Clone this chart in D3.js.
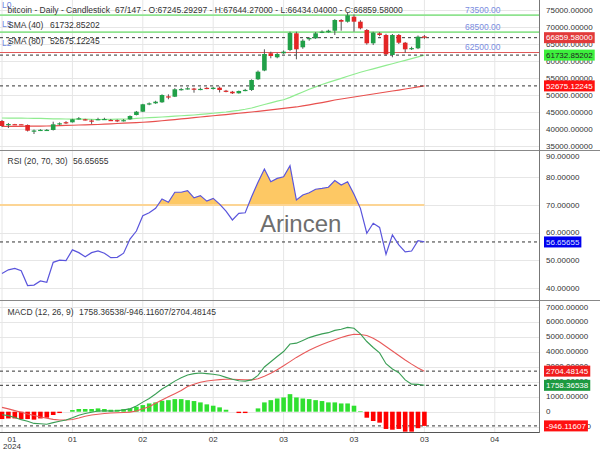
<!DOCTYPE html>
<html><head><meta charset="utf-8">
<script src="https://cdn.jsdelivr.net/npm/d3@7"></script>
<style>
body{margin:0;background:#fff;}
text{font-family:"Liberation Sans",Arial,sans-serif;}
</style>
</head><body>
<svg id="c" width="600" height="450"></svg>
<script>
// ---------- DATA ----------
const tickLabels = ["01","01","02","02","03","03","03","04"];
const tickIndex = [0,11,22,33,44,55,66,77];
const yearLabel = "2024";

const candleOpen  = [42355,41380,41420,41400,41180,39480,39650,39700,39710,41450,42000,41970,43100,42850,42500,42850,42900,42650,42600,42500,42850,44120,45090,47300,47560,47850,49600,49500,51600,51800,51900,51750,52100,51770,52150,51270,50970,50500,51300,51470,54620,57200,62270,61090,62270,63240,68150,64030,66600,66680,68500,68440,68910,72060,71560,73030,71560,69120,65210,68150,67650,61770,67650,65380,63600,63740,67245.29297];
const candleHigh  = [42650,41770,41500,41480,41330,39850,39950,40000,42150,41950,42300,43000,43500,43000,42800,43300,43300,42950,42800,42900,44000,45300,47400,47800,48300,50200,50200,52000,52100,52300,52100,52200,52300,52400,52500,51500,51200,51300,51800,54600,57200,63440,62740,62400,63100,68620,68620,66400,66970,68500,69000,69200,72300,72300,74100,73700,72000,69400,68600,68500,68000,67940,67940,65600,64200,67500,67644.27];
const candleLow   = [40590,40300,41300,41320,39270,38530,39400,39450,39560,41100,41500,41900,42800,42500,41500,42600,42650,42350,42000,42200,42700,44000,44950,47000,47400,47700,48740,49400,51300,51600,50680,51400,51700,51600,50750,50800,50300,50400,51100,51200,54400,57000,60800,60800,62100,62900,60500,63600,65970,66500,68200,68300,67650,68910,71300,68620,69300,64800,64700,67300,61470,61090,65000,62440,63240,63500,66434.04];
const candleClose = [40885,41470,41380,41380,39500,39560,39750,39750,41380,41680,41900,42850,43150,42650,42450,42900,42950,42600,42400,42600,43820,45090,47270,47550,48030,50000,49500,51680,51750,51970,51770,51800,51950,52150,51470,50970,50500,51180,51500,54410,56850,62060,61470,62060,62740,68240,63440,65970,66750,68150,68620,68910,72060,71560,73440,71560,69620,65210,68330,67650,61970,67650,65380,63440,63800,67150,66859.58];

const sma40 = [43240,43220,43200,43180,43160,43150,43100,43050,43000,42960,42940,42920,42900,42880,42850,42800,42820,42850,42880,42910,42940,43100,43240,43340,43440,43530,43650,43770,43890,44000,44120,44280,44460,44640,44820,45000,45250,45500,45800,46180,46700,47200,47700,48200,48600,49300,50100,50900,51700,52400,53100,53700,54300,54900,55500,56100,56700,57200,57700,58200,58700,59200,59700,60200,60700,61200,61732.85202];
const sma80 = [40740,40760,40780,40800,40820,40840,40860,40880,40930,40990,41050,41110,41170,41230,41280,41320,41420,41520,41620,41720,41820,41900,41980,42100,42240,42420,42600,42780,42960,43150,43340,43530,43710,43890,44070,44250,44440,44630,44820,45000,45210,45420,45630,45840,46050,46260,46480,46800,47120,47450,47780,48150,48530,48830,49120,49410,49700,50000,50300,50590,50880,51170,51460,51760,52060,52370,52675.12245];

const rsi = [45.3,46.6,47.1,46.3,40.9,41.1,42.6,42.1,49.3,50.1,49.9,53.8,52.8,51.3,52.8,53.4,52.6,51.0,51.1,52.6,57.7,60.6,66.1,67.2,68.8,72.2,71.0,74.6,74.6,75.2,72.6,73.4,71.4,72.4,70.3,67.8,64.6,67.0,67.2,73.0,78.2,83.0,78.4,79.6,80.2,84.2,71.8,73.6,74.4,75.7,76.0,76.4,78.8,77.2,78.4,73.9,68.8,59.8,63.4,61.9,52.2,59.2,55.6,53.1,53.4,57.1,56.65655];

const macdLine = [-200,-260,-380,-530,-640,-780,-800,-840,-730,-640,-555,-410,-240,-120,-40,50,60,40,60,120,190,380,640,883,1180,1510,1760,2040,2260,2450,2540,2580,2537,2500,2430,2290,2160,2060,2040,2120,2420,2980,3330,3680,4010,4510,4570,4750,4940,5070,5190,5270,5420,5500,5620,5560,5190,4680,4280,3920,3200,2850,2600,2120,1840,1820,1758.36538];
const signalLine = [290,190,70,-40,-150,-250,-350,-440,-510,-550,-555,-520,-420,-300,-220,-170,-120,-90,-70,-50,-30,50,200,333,560,780,990,1200,1420,1680,1830,1960,2047,2100,2140,2160,2160,2150,2130,2120,2200,2360,2560,2800,3060,3340,3620,3870,4100,4300,4480,4650,4800,4950,5070,5160,5150,5080,4900,4650,4350,4050,3750,3450,3170,2920,2704.48145];
const macdHist = [-490,-450,-450,-490,-490,-530,-450,-400,-220,-90,0,110,180,180,180,220,180,130,130,170,220,330,440,550,620,730,770,840,840,770,710,620,490,400,290,130,0,-90,-90,0,220,620,770,880,950,1170,950,880,840,770,710,620,620,550,550,400,40,-400,-620,-730,-1150,-1200,-1150,-1330,-1330,-1100,-946.11607];

const priceTicks = [35000,40000,45000,50000,55000,60000,65000,70000,75000];
const rsiTicks = [40,50,60,70,80,90];
const macdTicks = [-1000,0,1000,2000,3000,4000,5000,6000,7000];
const levelLines = [73500, 68500, 62500];
const levelColors = ["#8fe38f","#8fe38f","#e05a5a"];

// ---------- SETUP ----------
const svg = d3.select("#c");
const FS = 8;
const HFS = 8.5;
const axisX = 539;
const x = d3.scaleLinear().domain([0, 83.75]).range([2, 538]);
const yMain = d3.scaleLinear().domain([33824, 77941]).range([150, 0]);
const yRsi = d3.scaleLinear().domain([35.7, 89.86]).range([300, 150]);
const yMacd = d3.scaleLinear().domain([-1353, 7380]).range([432, 301]);
const idx = d3.range(candleOpen.length);
const last = idx.length - 1;

const defs = svg.append("defs");
function clip(id, y0, y1){
  defs.append("clipPath").attr("id", id).append("rect")
    .attr("x", 0).attr("y", y0).attr("width", axisX).attr("height", y1 - y0);
  return "url(#" + id + ")";
}
const cMain = clip("cm", 0, 150), cRsi = clip("cr", 150, 300), cMacd = clip("cd", 301, 432);

// grid
const grid = svg.append("g");
grid.selectAll("line.v").data(tickIndex).join("line")
  .attr("x1", d => x(d)).attr("x2", d => x(d)).attr("y1", 0).attr("y2", 432)
  .attr("stroke", "#e6e6e6").attr("stroke-width", 1);
function hgrid(scale, ticks, cp){
  grid.append("g").attr("clip-path", cp).selectAll("line").data(ticks).join("line")
    .attr("x1", 0).attr("x2", axisX).attr("y1", d => Math.round(scale(d)) + 0.5).attr("y2", d => Math.round(scale(d)) + 0.5)
    .attr("stroke", "#e6e6e6");
}
hgrid(yMain, priceTicks, cMain);
hgrid(yRsi, rsiTicks, cRsi);
hgrid(yMacd, macdTicks, cMacd);

// ---------- MAIN PANEL ----------
const gm = svg.append("g").attr("clip-path", cMain);
gm.selectAll("line.lvl").data(levelLines).join("line")
  .attr("x1", 0).attr("x2", axisX).attr("y1", d => yMain(d)).attr("y2", d => yMain(d))
  .attr("stroke", (d, i) => levelColors[i]).attr("stroke-width", (d, i) => i < 2 ? 1.6 : 1.2);
svg.selectAll("text.lvl").data(levelLines).join("text")
  .attr("x", 465).attr("y", d => yMain(d) - 2.5).attr("font-size", HFS).attr("fill", "#7b8de0")
  .text(d => d.toFixed(2));

const lineMain = arr => d3.line().x((d, i) => x(i)).y(d => yMain(d))(arr);
gm.append("path").attr("d", lineMain(sma80)).attr("fill", "none").attr("stroke", "#e8504e").attr("stroke-width", 1.2);
gm.append("path").attr("d", lineMain(sma40)).attr("fill", "none").attr("stroke", "#90ec90").attr("stroke-width", 1.2);

const dashMain = [candleClose[last], sma40[last], sma80[last]];
gm.selectAll("line.dash").data(dashMain).join("line")
  .attr("x1", 0).attr("x2", axisX).attr("y1", d => yMain(d)).attr("y2", d => yMain(d))
  .attr("stroke", "#333").attr("stroke-dasharray", "3,3");

const up = i => candleClose[i] >= candleOpen[i];
gm.selectAll("line.wick").data(idx).join("line")
  .attr("x1", i => x(i)).attr("x2", i => x(i))
  .attr("y1", i => yMain(candleHigh[i])).attr("y2", i => yMain(candleLow[i]))
  .attr("stroke", "#555").attr("stroke-width", 1);
gm.selectAll("rect.body").data(idx).join("rect")
  .attr("x", i => x(i) - 2.3).attr("width", 4.6)
  .attr("y", i => yMain(Math.max(candleOpen[i], candleClose[i])))
  .attr("height", i => Math.max(1.2, Math.abs(yMain(candleOpen[i]) - yMain(candleClose[i]))))
  .attr("fill", i => up(i) ? "#21a048" : "#e32626");

// ---------- RSI PANEL ----------
const gr = svg.append("g").attr("clip-path", cRsi);
defs.append("clipPath").attr("id", "above70").append("rect")
  .attr("x", 0).attr("y", 150).attr("width", axisX).attr("height", yRsi(70) - 150);
gr.append("path")
  .attr("d", d3.area().x((d, i) => x(i)).y0(yRsi(70)).y1(d => yRsi(d))(rsi))
  .attr("fill", "#fdc864").attr("clip-path", "url(#above70)");
gr.append("line").attr("x1", 0).attr("x2", x(last)).attr("y1", yRsi(70)).attr("y2", yRsi(70))
  .attr("stroke", "#fcd595").attr("stroke-width", 1.8);
gr.append("line").attr("x1", 0).attr("x2", axisX).attr("y1", yRsi(rsi[last])).attr("y2", yRsi(rsi[last]))
  .attr("stroke", "#333").attr("stroke-dasharray", "3,3");
gr.append("path").attr("d", d3.line().x((d, i) => x(i)).y(d => yRsi(d))(rsi))
  .attr("fill", "none").attr("stroke", "#5a55dc").attr("stroke-width", 1.2);

svg.append("text").attr("x", 260).attr("y", 232).attr("font-size", 24).attr("fill", "#6e6e6e").text("Arincen");

// ---------- MACD PANEL ----------
const gd = svg.append("g").attr("clip-path", cMacd);
gd.selectAll("line.dash").data([signalLine[last], macdLine[last], macdHist[last]]).join("line")
  .attr("x1", 0).attr("x2", axisX).attr("y1", d => yMacd(d)).attr("y2", d => yMacd(d))
  .attr("stroke", "#333").attr("stroke-dasharray", "3,3");
gd.selectAll("rect.h").data(idx).join("rect")
  .attr("x", i => x(i) - 2.3).attr("width", 4.6)
  .attr("y", i => Math.min(yMacd(0), yMacd(macdHist[i])))
  .attr("height", i => Math.abs(yMacd(macdHist[i]) - yMacd(0)))
  .attr("fill", i => macdHist[i] >= 0 ? "#2fe02f" : "#ff0000");
const lineMacd = arr => d3.line().x((d, i) => x(i)).y(d => yMacd(d))(arr);
gd.append("path").attr("d", lineMacd(signalLine)).attr("fill", "none").attr("stroke", "#e85a5a").attr("stroke-width", 1.1);
gd.append("path").attr("d", lineMacd(macdLine)).attr("fill", "none").attr("stroke", "#3a9e55").attr("stroke-width", 1.1);

// ---------- FRAME ----------
svg.append("line").attr("x1", 0).attr("x2", 600).attr("y1", 150.5).attr("y2", 150.5).attr("stroke", "#888");
svg.append("line").attr("x1", 0).attr("x2", 600).attr("y1", 300.5).attr("y2", 300.5).attr("stroke", "#888");
svg.append("line").attr("x1", 0).attr("x2", axisX).attr("y1", 432.5).attr("y2", 432.5).attr("stroke", "#555");
svg.append("line").attr("x1", axisX + 0.5).attr("x2", axisX + 0.5).attr("y1", 0).attr("y2", 433).attr("stroke", "#777");

// ---------- AXES ----------
const fmt = d => d === 0 ? "0" : d.toFixed(5);
function rightAxis(scale, ticks, top){
  const g = svg.append("g").attr("transform", `translate(${axisX},0)`)
    .call(d3.axisRight(scale).tickValues(ticks).tickSize(0).tickPadding(7).tickFormat(fmt));
  g.select(".domain").remove();
  g.selectAll("text").attr("font-size", FS).attr("fill", "#333").attr("font-family", "Liberation Sans, Arial, sans-serif");
  g.selectAll(".tick").attr("transform", d => `translate(0,${Math.max(scale(d), top + 6)})`);
}
rightAxis(yMain, priceTicks, 0);
rightAxis(yRsi, rsiTicks, 150);
rightAxis(yMacd, macdTicks, 301);

const gx = svg.append("g").attr("transform", "translate(0,432)")
  .call(d3.axisBottom(x).tickValues(tickIndex).tickSize(0).tickPadding(4).tickFormat((d, i) => tickLabels[i]));
gx.select(".domain").remove();
gx.selectAll("text").attr("font-size", FS).attr("fill", "#333").attr("font-family", "Liberation Sans, Arial, sans-serif");
gx.selectAll(".tick").attr("transform", d => `translate(${Math.max(x(d), 12)},0)`);
svg.append("text").attr("x", 12).attr("y", 449).attr("text-anchor", "middle").attr("font-size", FS).attr("fill", "#333").text(yearLabel);

// ---------- VALUE BOXES ----------
function box(y, label, bg, fg){
  const g = svg.append("g");
  const r = g.append("rect").attr("x", 544).attr("y", y - 5.5).attr("height", 11).attr("fill", bg);
  const t = g.append("text").attr("x", 546).attr("y", y).attr("dy", "0.35em").attr("font-size", FS).attr("fill", fg).text(label);
  r.attr("width", t.node().getComputedTextLength() + 4);
}
box(yMain(candleClose[last]), candleClose[last].toFixed(5), "#e23a3a", "#fff");
box(yMain(sma40[last]), sma40[last].toFixed(5), "#3df03d", "#222");
box(yMain(sma80[last]), sma80[last].toFixed(5), "#ff1010", "#fff");
box(yRsi(rsi[last]), rsi[last].toFixed(5), "#0000ee", "#dfe4ff");
box(yMacd(signalLine[last]), signalLine[last].toFixed(5), "#f01c1c", "#fff");
box(yMacd(macdLine[last]), macdLine[last].toFixed(5), "#1c9a40", "#fff");
box(yMacd(macdHist[last]), macdHist[last].toFixed(5), "#ff1010", "#fff");

// ---------- HEADERS ----------
const hdr = (xp, yp, s, col) => svg.append("text").attr("x", xp).attr("y", yp).attr("font-size", HFS).attr("fill", col || "#333").text(s);
hdr(2, 8, "L0", "#7088dd");
hdr(2, 27, "L5", "#7088dd");
hdr(2, 46, "L2", "#7088dd");
hdr(7.5, 13, "bitcoin - Daily - Candlestick");
hdr(115, 13, `67/147 - O:${candleOpen[last].toFixed(5)} - H:${candleHigh[last].toFixed(5)} - L:${candleLow[last].toFixed(5)} - C:${candleClose[last].toFixed(5)}`);
hdr(8, 28, "SMA (40)");
hdr(50, 28, sma40[last].toFixed(5));
hdr(8, 43.5, "SMA (80)");
hdr(50, 43.5, sma80[last].toFixed(5));
hdr(7.5, 164, "RSI (20, 70, 30)");
hdr(73, 164, rsi[last].toFixed(5));
hdr(7.5, 314.5, "MACD (12, 26, 9)");
hdr(79, 314.5, `${macdLine[last].toFixed(5)}/${macdHist[last].toFixed(5)}/${signalLine[last].toFixed(5)}`);
</script>
</body></html>
